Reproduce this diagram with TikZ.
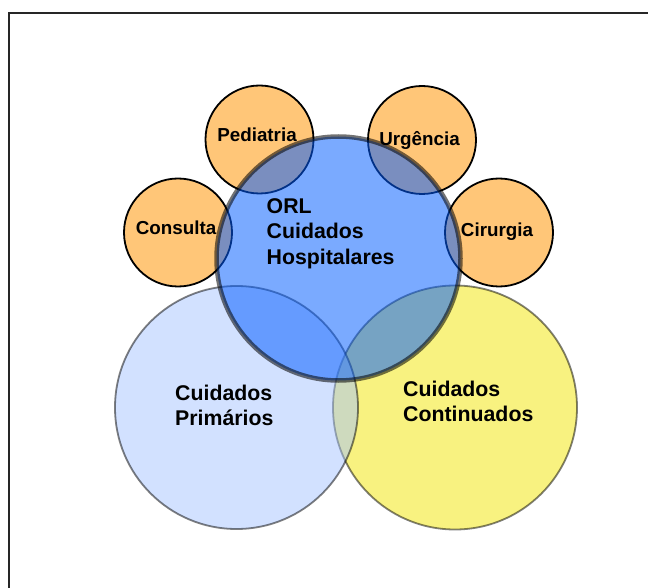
\documentclass[tikz,border=0pt]{standalone}
\usepackage{fontspec}
\setmainfont{Liberation Sans}
\definecolor{orangefill}{RGB}{255,198,120}
\definecolor{bigblue}{RGB}{4,94,255}
\definecolor{lblue}{RGB}{163,194,255}
\definecolor{yel}{RGB}{248,242,128}
\tikzset{
  venn/.style={circle, inner sep=0pt, draw=black, draw opacity=0.5, line width=1.8pt},
  dept/.style={circle, inner sep=0pt, minimum size=108pt, draw=black, line width=1.8pt, fill=orangefill},
  small/.style={font=\fontsize{18.8}{22}\selectfont\bfseries, inner sep=0pt, anchor=base},
  big/.style={font=\fontsize{21.3}{25.6}\selectfont\bfseries, inner sep=0pt, align=left, anchor=base west},
  frame/.style={line width=2.5pt, draw=black!85}
}
\begin{document}
\begin{tikzpicture}[x=1pt,y=-1pt]
\useasboundingbox (0,0) rectangle (648,588);
\draw[frame] (648,13) -- (9,13) -- (9,588);
% Venn circles
\node[venn, fill=yel, minimum size=244pt] (cont) at (455,407.5) {};
\node[venn, fill=lblue, fill opacity=0.49, minimum size=243pt] (prim) at (236.5,407.5) {};
% departments
\node[dept] (ped) at (259.5,139.5) {};
\node[dept] (urg) at (422,140) {};
\node[dept] (cons) at (178,232.5) {};
\node[dept] (cir) at (499,232.5) {};
% hospital circle
\node[circle, inner sep=0pt, minimum size=244pt, fill=bigblue, fill opacity=0.53, draw=black, draw opacity=0.55, line width=4.5pt] (orl) at (338.5,258.5) {};
% labels
\node[small] (tped) at (257,141.7) {Pediatria};
\node[small] (turg) at (419.5,145.5) {Urgência};
\node[small] (tcons) at (176,235) {Consulta};
\node[small] (tcir) at (497,236.7) {Cirurgia};
\node[big] (torl) at (266.5,264.5) {ORL\\Cuidados\\Hospitalares};
\node[big] (tprim) at (175,425.7) {Cuidados\\Primários};
\node[big] (tcont) at (403,421.7) {Cuidados\\Continuados};
\end{tikzpicture}
\end{document}
